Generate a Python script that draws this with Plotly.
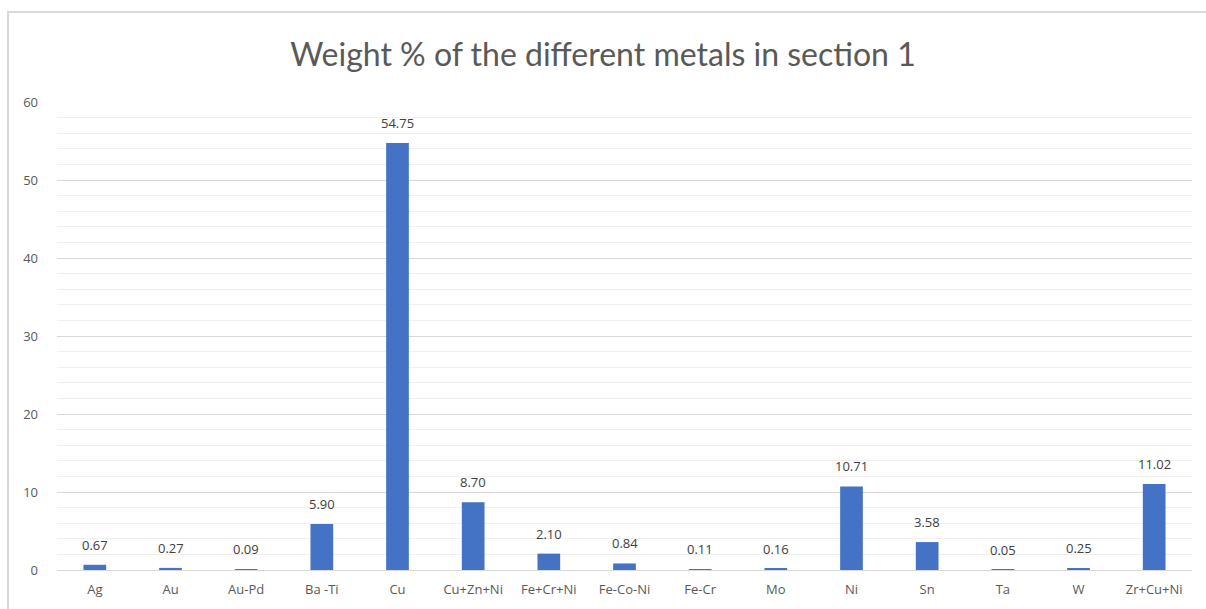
import plotly.graph_objects as go

metals = ["Ag", "Au", "Au-Pd", "Ba -Ti", "Cu", "Cu+Zn+Ni", "Fe+Cr+Ni", "Fe-Co-Ni",
          "Fe-Cr", "Mo", "Ni", "Sn", "Ta", "W", "Zr+Cu+Ni"]
weight_pct = [0.67, 0.27, 0.09, 5.90, 54.75, 8.70, 2.10, 0.84,
              0.11, 0.16, 10.71, 3.58, 0.05, 0.25, 11.02]
y_ticks = [0, 10, 20, 30, 40, 50, 60]

W, H = 1206, 609
ml, mr, mt, mb = 57, 14, 102, 39

fig = go.Figure()
fig.add_trace(go.Bar(
    x=metals,
    y=weight_pct,
    marker=dict(color="#4472C4", line=dict(width=0)),
))

# value labels sit a little above each bar
for name, v in zip(metals, weight_pct):
    fig.add_annotation(
        x=name, y=v, text=f"{v:.2f}", showarrow=False,
        yanchor="bottom", yshift=9,
        font=dict(family="Open Sans", size=13, color="#404040"),
    )

fig.update_layout(
    width=W, height=H,
    margin=dict(l=ml, r=mr, t=mt, b=mb),
    paper_bgcolor="white",
    plot_bgcolor="white",
    bargap=0.70,
    showlegend=False,
    title=dict(
        text="Weight % of the different metals in section 1",
        x=0.5, xanchor="center", y=1 - 55 / H, yanchor="middle",
        font=dict(family="Lato", size=32, color="#595959"),
    ),
    xaxis=dict(
        tickfont=dict(family="Open Sans", size=13, color="#595959"),
        showgrid=False, showline=False, ticks="",
        tickangle=0, ticklabelstandoff=10,
    ),
    yaxis=dict(
        range=[0, 60],
        tickvals=y_ticks,
        tickfont=dict(family="Open Sans", size=13, color="#595959"),
        showgrid=True, gridcolor="#D9D9D9", gridwidth=1,
        minor=dict(dtick=2, showgrid=True, gridcolor="#F0F0F0", gridwidth=1),
        zeroline=True, zerolinecolor="#D9D9D9", zerolinewidth=1,
        showline=False, ticks="", ticklabelstandoff=18,
    ),
    shapes=[dict(
        type="rect", xref="paper", yref="paper",
        x0=-(ml - 8) / (W - ml - mr), x1=1 + (mr + 20) / (W - ml - mr),
        y0=-(mb + 10) / (H - mt - mb), y1=1 + (mt - 12) / (H - mt - mb),
        line=dict(color="#D9D9D9", width=2), fillcolor="rgba(0,0,0,0)",
        layer="below",
    )],
)

fig.write_html("out.html")
